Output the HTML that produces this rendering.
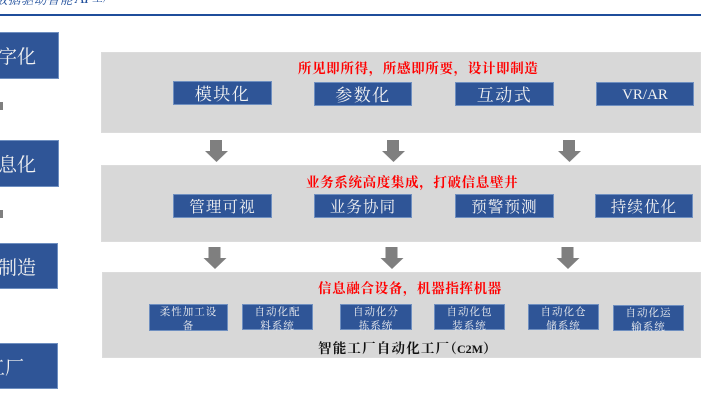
<!DOCTYPE html>
<html>
<head>
<meta charset="utf-8">
<style>
html,body{margin:0;padding:0;background:#fff;}
#p{position:relative;width:701px;height:405px;overflow:hidden;background:#fff;font-family:"Liberation Serif","Noto Serif CJK SC",serif;filter:blur(.35px);}
#p div{position:absolute;box-sizing:border-box;}
.g{background:#d8d8d8;border:1px solid #dcdcdc;}
.b{background:#2f5597;border:1px solid #6f8fc0;color:#f2f2f2;text-align:center;white-space:nowrap;}
.m{font-size:17px;line-height:25px;letter-spacing:1.5px;}
.n{font-size:15.5px;line-height:26px;letter-spacing:1.1px;}
.s{font-size:10.5px;line-height:14px;letter-spacing:1px;white-space:normal;padding:1px 8px 0;}
.l{font-size:19px;line-height:49px;letter-spacing:0;text-align:right;border-left:0;padding-right:22px;}
.r{color:#ff0000;font-weight:700;font-size:13.5px;line-height:16px;letter-spacing:.65px;white-space:nowrap;}
.t{font-style:italic;color:#1f4e9b;white-space:nowrap;line-height:16px;}
svg{position:absolute;left:0;top:0;}
</style>
</head>
<body>
<div id="p">
<div class="t" style="left:-5px;top:-8px;font-size:12.5px;letter-spacing:.5px;">数据驱动智能</div>
<div class="t" style="left:75px;top:-9px;font-size:15px;">AI</div>
<div class="t" style="left:92px;top:-8px;font-size:10.5px;">工厂</div>
<div style="left:0;top:14px;width:701px;height:2px;background:#1f4e9b;"></div>

<div class="b l" style="left:-40px;top:32px;width:99px;height:47px;">数字化</div>
<div class="b l" style="left:-40px;top:140px;width:99px;height:47px;">信息化</div>
<div class="b l" style="left:-40px;top:243px;width:98px;height:46px;padding-right:32px;">智能制造</div>
<div class="b l" style="left:-40px;top:343px;width:98px;height:46px;padding-right:33px;">工厂</div>

<div style="left:0;top:102px;width:3px;height:8px;background:#7f7f7f;"></div>
<div style="left:0;top:210px;width:3px;height:8px;background:#7f7f7f;"></div>

<div class="g" style="left:101px;top:52px;width:600px;height:81px;"></div>
<div class="g" style="left:101px;top:165px;width:600px;height:77px;"></div>
<div class="g" style="left:102px;top:272px;width:599px;height:86px;"></div>

<div class="r" style="left:298px;top:61px;">所见即所得，所感即所要，设计即制造</div>
<div class="b m" style="left:173px;top:81px;width:99px;height:24px;">模块化</div>
<div class="b m" style="left:314px;top:82px;width:98px;height:24px;">参数化</div>
<div class="b m" style="left:455px;top:82px;width:99px;height:24px;">互动式</div>
<div class="b m" style="left:596px;top:82px;width:98px;height:24px;font-size:15px;letter-spacing:0;">VR/AR</div>

<div class="r" style="left:306px;top:175px;">业务系统高度集成，打破信息壁井</div>
<div class="b n" style="left:173px;top:194px;width:99px;height:24px;">管理可视</div>
<div class="b n" style="left:314px;top:194px;width:98px;height:24px;">业务协同</div>
<div class="b n" style="left:455px;top:194px;width:99px;height:24px;">预警预测</div>
<div class="b n" style="left:595px;top:194px;width:98px;height:24px;">持续优化</div>

<div class="r" style="left:318px;top:281px;">信息融合设备，机器指挥机器</div>
<div class="b s" style="left:149px;top:304px;width:79px;height:27px;">柔性加工设备</div>
<div class="b s" style="left:242px;top:304px;width:71px;height:26px;">自动化配料系统</div>
<div class="b s" style="left:340px;top:304px;width:72px;height:26px;">自动化分拣系统</div>
<div class="b s" style="left:434px;top:304px;width:71px;height:26px;">自动化包装系统</div>
<div class="b s" style="left:528px;top:304px;width:71px;height:26px;">自动化仓储系统</div>
<div class="b s" style="left:613px;top:305px;width:71px;height:26px;">自动化运输系统</div>
<div style="left:318px;top:341px;font-size:13.5px;line-height:16px;font-weight:700;color:#111;white-space:nowrap;letter-spacing:1.2px;">智能工厂自动化工厂<span style="margin-left:-7px;">（</span><span style="margin-left:-1px;font-size:12px;letter-spacing:0;">C2M</span><span style="margin-left:0;">）</span></div>

<svg width="701" height="405" viewBox="0 0 701 405">
<g fill="#7f7f7f">
<polygon points="210,140 222,140 222,151 228,151 216.500,162 205,151 210,151"/>
<polygon points="387,140 399,140 399,151 405,151 393.500,162 382,151 387,151"/>
<polygon points="563,140 575,140 575,151 581,151 569.500,162 558,151 563,151"/>
<polygon points="208.500,247 220.500,247 220.500,258 226.500,258 215,269 203.500,258 208.500,258"/>
<polygon points="385.500,247 397.500,247 397.500,258 403.500,258 392,269 380.500,258 385.500,258"/>
<polygon points="561.500,247 573.500,247 573.500,258 579.500,258 568,269 556.500,258 561.500,258"/>
</g>
</svg>
</div>
</body>
</html>
